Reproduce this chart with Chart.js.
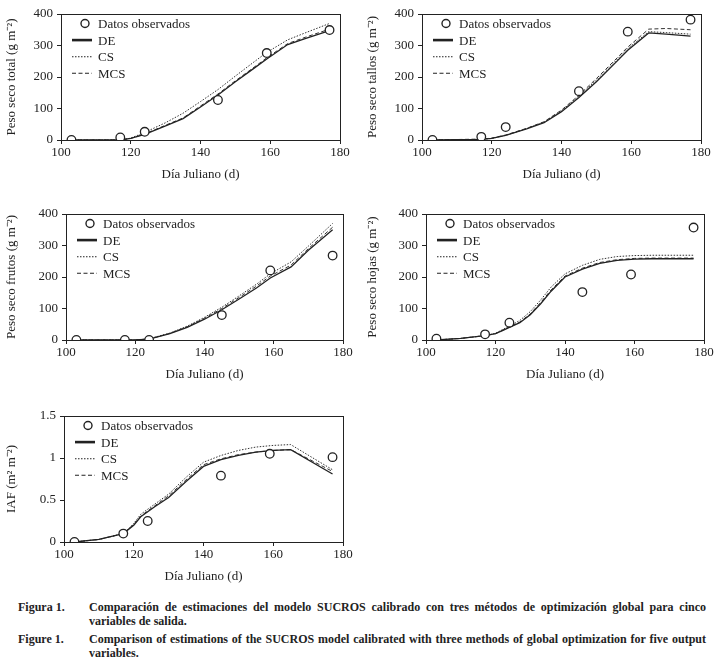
<!DOCTYPE html>
<html>
<head>
<meta charset="utf-8">
<script src="https://cdn.jsdelivr.net/npm/chart.js@4.4.1/dist/chart.umd.min.js"></script>
<style>
  body { margin: 0; background: #fff; width: 723px; height: 669px; position: relative; overflow: hidden; font-family: "Liberation Serif", serif; }
  canvas { position: absolute; }
  .lab { position: absolute; left: 18px; font-weight: bold; font-size: 12px; line-height: 14px; color: #222; white-space: nowrap; }
  .txt { position: absolute; left: 89px; width: 617px; font-weight: bold; font-size: 12px; line-height: 14px; color: #222; text-align: justify; text-align-last: justify; }
  .txt.last { text-align-last: left; }
</style>
</head>
<body>
<canvas id="c1" width="360" height="188" style="left:0;top:0"></canvas>
<canvas id="c2" width="362" height="188" style="left:361px;top:0"></canvas>
<canvas id="c3" width="360" height="188" style="left:0;top:200px"></canvas>
<canvas id="c4" width="362" height="188" style="left:361px;top:200px"></canvas>
<canvas id="c5" width="360" height="188" style="left:0;top:402px"></canvas>

<div class="lab" style="top:600px">Figura 1.</div>
<div class="txt" style="top:600px">Comparación de estimaciones del modelo SUCROS calibrado con tres métodos de optimización global para cinco</div>
<div class="txt last" style="top:614px">variables de salida.</div>
<div class="lab" style="top:632px">Figure 1.</div>
<div class="txt" style="top:632px">Comparison of estimations of the SUCROS model calibrated with three methods of global optimization for five output</div>
<div class="txt last" style="top:646px">variables.</div>

<script>
// observed points (same sampling days in every panel)
const obsDays = [103, 117, 124, 145, 159, 177];
const obsTotal = [0, 8, 26, 127, 276, 349];
const obsTallos = [0, 10, 41, 155, 344, 382];
const obsFrutos = [0, 0, 0, 79, 221, 268];
const obsHojas = [4, 18, 55, 152, 208, 357];
const obsIaf = [0, 0.1, 0.25, 0.79, 1.05, 1.01];

// simulated curves
const simDays = [103, 117, 120, 124, 130, 135, 140, 145, 150, 155, 159, 165, 170, 177];
const deTotal = [0, 0, 5, 18, 45, 68, 105, 143, 185, 225, 257, 303, 322, 347];
const csTotal = [0, 0, 6, 24, 55, 85, 122, 160, 203, 245, 278, 318, 340, 370];
const mcsTotal = [0, 0, 5, 19, 47, 70, 108, 146, 188, 228, 261, 306, 326, 352];

const deTallos = [0, 2, 5, 15, 35, 55, 90, 135, 185, 240, 285, 340, 336, 330];
const csTallos = [0, 2, 5, 15, 36, 57, 93, 139, 190, 245, 290, 344, 341, 336];
const mcsTallos = [0, 3, 6, 16, 37, 58, 95, 142, 195, 250, 295, 352, 354, 350];

const deFrutos = [0, 0, 0, 3, 20, 40, 66, 96, 130, 165, 197, 232, 285, 350];
const csFrutos = [0, 0, 0, 4, 22, 44, 72, 104, 140, 177, 210, 248, 298, 370];
const mcsFrutos = [0, 0, 0, 3, 21, 42, 69, 100, 135, 171, 203, 238, 290, 358];

const hojasDays = [103, 110, 117, 120, 122, 124, 127, 130, 133, 136, 140, 145, 150, 155, 160, 165, 177];
const deHojas = [0, 5, 14, 20, 30, 40, 55, 80, 115, 155, 200, 225, 243, 253, 257, 258, 258];
const csHojas = [0, 5, 14, 21, 33, 44, 62, 90, 127, 168, 210, 237, 256, 265, 268, 269, 269];
const mcsHojas = [0, 5, 14, 20, 31, 41, 57, 83, 119, 159, 203, 228, 246, 255, 259, 260, 260];

const iafDays = [103, 110, 117, 120, 122, 126, 130, 135, 140, 145, 150, 155, 160, 165, 177];
const deIaf = [0, 0.03, 0.1, 0.2, 0.3, 0.42, 0.53, 0.72, 0.9, 0.98, 1.03, 1.07, 1.09, 1.1, 0.81];
const csIaf = [0, 0.03, 0.1, 0.22, 0.33, 0.45, 0.57, 0.77, 0.95, 1.03, 1.09, 1.13, 1.15, 1.16, 0.86];
const mcsIaf = [0, 0.03, 0.1, 0.21, 0.31, 0.43, 0.55, 0.74, 0.92, 0.99, 1.04, 1.07, 1.09, 1.1, 0.84];

const seriesNames = ['Datos observados', 'DE', 'CS', 'MCS'];
const xTicks = [100, 120, 140, 160, 180];

const FONT = '"Liberation Serif", serif';
const INK = '#222';

const pts = (xs, ys) => xs.map((x, i) => ({ x: x, y: ys[i] }));

// box around the plot + legend inside the top-left corner
const framePlugin = {
    id: 'frame',
    afterDraw(chart) {
        const ctx = chart.ctx;
        const a = chart.chartArea;
        ctx.save();
        ctx.strokeStyle = INK;
        ctx.lineWidth = 1;
        ctx.strokeRect(Math.round(a.left) + 0.5, Math.round(a.top) + 0.5, Math.round(a.width), Math.round(a.height));

        ctx.font = '13px ' + FONT;
        ctx.textBaseline = 'middle';
        ctx.fillStyle = INK;
        chart.data.datasets.forEach((ds, i) => {
            const y = a.top + 9.5 + 16.6 * i;
            if (i === 0) {
                ctx.beginPath();
                ctx.arc(a.left + 24, y, 4, 0, Math.PI * 2);
                ctx.fillStyle = '#fff';
                ctx.fill();
                ctx.lineWidth = 1.4;
                ctx.strokeStyle = INK;
                ctx.stroke();
            } else {
                ctx.beginPath();
                ctx.setLineDash(ds.borderDash || []);
                ctx.lineWidth = i === 1 ? 2.6 : 1.1;
                ctx.strokeStyle = INK;
                ctx.moveTo(a.left + 11, y);
                ctx.lineTo(a.left + 31, y);
                ctx.stroke();
                ctx.setLineDash([]);
            }
            ctx.fillStyle = INK;
            ctx.fillText(ds.label, a.left + 37, y + 1);
        });
        ctx.restore();
    }
};

function makePanel(id, days, obs, de, cs, mcs, yTitle, yMax, yStep, yWidth, padRight) {
    const ctx = document.getElementById(id).getContext('2d');
    return new Chart(ctx, {
        type: 'scatter',
        data: {
            datasets: [
                { label: seriesNames[0], data: pts(obsDays, obs), showLine: false,
                  pointRadius: 4.3, pointBackgroundColor: '#fff', pointBorderColor: INK, pointBorderWidth: 1.3 },
                { label: seriesNames[1], data: pts(days, de), showLine: true, pointRadius: 0,
                  borderColor: INK, borderWidth: 1.3 },
                { label: seriesNames[2], data: pts(days, cs), showLine: true, pointRadius: 0,
                  borderColor: '#333', borderWidth: 1, borderDash: [1.5, 1.5] },
                { label: seriesNames[3], data: pts(days, mcs), showLine: true, pointRadius: 0,
                  borderColor: '#333', borderWidth: 1, borderDash: [4, 2.5] }
            ]
        },
        options: {
            responsive: false,
            animation: false,
            devicePixelRatio: 1,
            layout: { padding: { left: 0, top: 14, right: padRight, bottom: 0 } },
            plugins: { legend: { display: false }, tooltip: { enabled: false } },
            scales: {
                x: {
                    type: 'linear', min: 100, max: 180,
                    afterBuildTicks: (s) => { s.ticks = xTicks.map(v => ({ value: v })); },
                    afterFit: (s) => { s.height = 48; },
                    grid: { drawOnChartArea: false, drawTicks: true, tickLength: 4, color: INK },
                    border: { color: INK },
                    ticks: { color: INK, font: { family: FONT, size: 13 }, padding: 1, maxRotation: 0 },
                    title: { display: true, text: 'Día Juliano (d)', color: INK, font: { family: FONT, size: 13 }, padding: { top: 0, bottom: 6 } }
                },
                y: {
                    min: 0, max: yMax,
                    ticks: { stepSize: yStep, color: INK, font: { family: FONT, size: 13 }, padding: 4,
                             callback: (v) => String(v) },
                    afterFit: (s) => { s.width = yWidth; },
                    grid: { drawOnChartArea: false, drawTicks: true, tickLength: 4, color: INK },
                    border: { color: INK },
                    title: { display: true, text: yTitle, color: INK, font: { family: FONT, size: 13 }, padding: { top: 4, bottom: 0 } }
                }
            }
        },
        plugins: [framePlugin]
    });
}

makePanel('c1', simDays, obsTotal, deTotal, csTotal, mcsTotal, 'Peso seco total (g m⁻²)', 400, 100, 61, 20);
makePanel('c2', simDays, obsTallos, deTallos, csTallos, mcsTallos, 'Peso seco tallos (g m⁻²)', 400, 100, 61, 22);
makePanel('c3', simDays, obsFrutos, deFrutos, csFrutos, mcsFrutos, 'Peso seco frutos (g m⁻²)', 400, 100, 66, 17);
makePanel('c4', hojasDays, obsHojas, deHojas, csHojas, mcsHojas, 'Peso seco hojas (g m⁻²)', 400, 100, 65, 19);
makePanel('c5', iafDays, obsIaf, deIaf, csIaf, mcsIaf, 'IAF (m² m⁻²)', 1.5, 0.5, 64, 17);
</script>
</body>
</html>
